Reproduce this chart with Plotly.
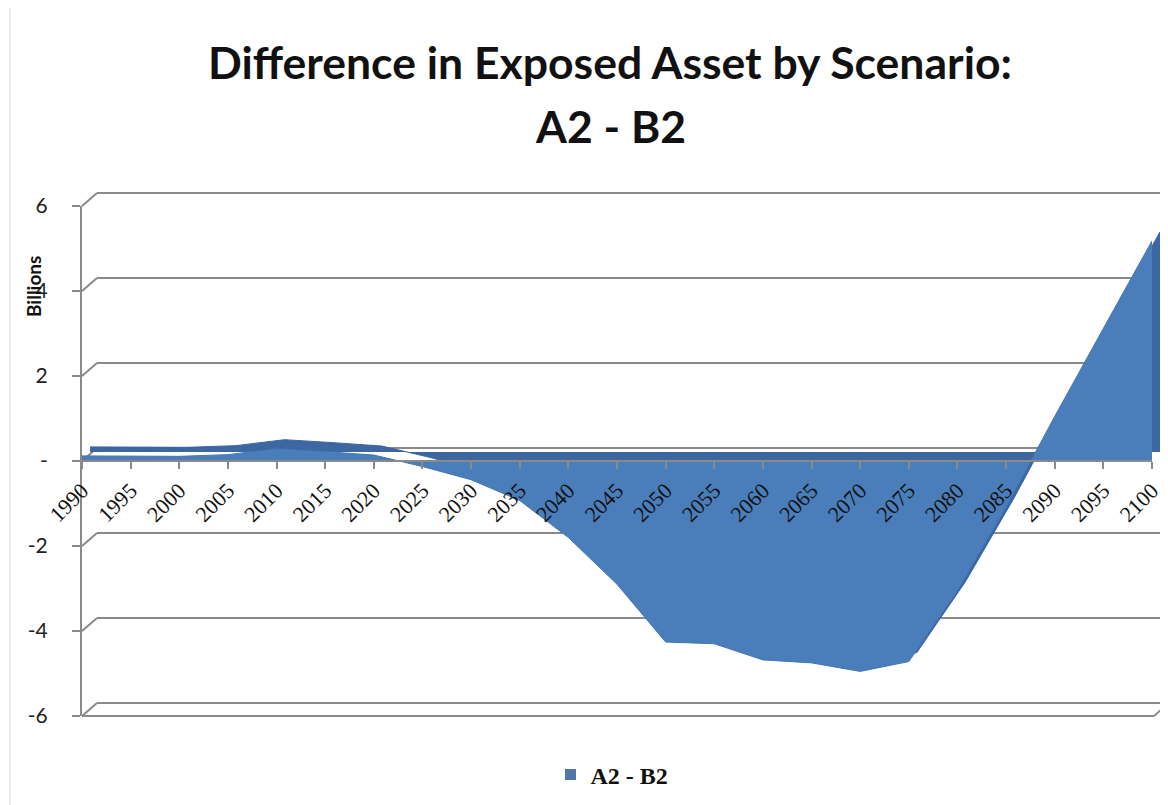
import plotly.graph_objects as go

# ---------------- data ----------------
years = list(range(1990, 2101, 5))
diff_billions = [0.12, 0.12, 0.11, 0.15, 0.29, 0.22, 0.14, -0.13, -0.44, -0.93,
                 -1.80, -2.90, -4.26, -4.30, -4.68, -4.75, -4.95, -4.72, -3.05,
                 -1.08, 1.05, 3.12, 5.18]
y_ticks = [-6, -4, -2, 0, 2, 4, 6]
y_ticktext = ["-6", "-4", "-2", "-", "2", "4", "6"]
title_line1 = "Difference in Exposed Asset by Scenario:"
title_line2 = "A2 - B2"
series_name = "A2 - B2"
y_title = "Billions"

# ---------------- geometry (screen pixels) ----------------
OFF = 8                    # default body margin of the html page
W, H = 1168 - OFF, 805 - OFF
FL, FR = 82, 1152          # front plane left/right
FT, FB = 206, 716          # front plane top (6) / bottom (-6)
BDX, BDY = 15, 13          # back-wall offset
MDX, MDY = 8, 9            # depth of the area's back face
YMIN, YMAX = -6, 6
PPU = (FB - FT) / (YMAX - YMIN)
GRID = "#8A8A8A"


def px(x):
    return (x - OFF) / W


def py(y):
    return 1 - (y - OFF) / H


def yfront(v):
    return FB - (v - YMIN) * PPU


fig = go.Figure()

# back face of the 3-D area (extrusion)
fig.add_trace(go.Scatter(
    x=years, y=diff_billions, xaxis="x2", yaxis="y2", mode="lines",
    fill="tozeroy", fillcolor="#3C67A1", line=dict(color="#3A659E", width=1),
    showlegend=False, hoverinfo="skip"))
# front face
fig.add_trace(go.Scatter(
    x=years, y=diff_billions, xaxis="x3", yaxis="y3", mode="lines",
    fill="tozeroy", fillcolor="#4A7EBB", line=dict(color="#4576B2", width=1),
    showlegend=False, name=series_name))
# legend entry (lives on the back-wall subplot so that subplot is built)
fig.add_trace(go.Scatter(
    x=[None], y=[None], xaxis="x", yaxis="y", mode="markers",
    marker=dict(symbol="square", size=11, color="#5376A8"),
    name=series_name, showlegend=True))

pad = 0.3
shapes = []
# left diagonal connectors between front axis and back wall
for v in y_ticks:
    yf = yfront(v)
    shapes.append(dict(type="line", xref="paper", yref="paper",
                       x0=px(FL), y0=py(yf), x1=px(FL + BDX), y1=py(yf - BDY),
                       line=dict(color=GRID, width=2), layer="below"))
# front floor edge and right floor connector
shapes.append(dict(type="line", xref="paper", yref="paper",
                   x0=px(FL), y0=py(FB), x1=px(FR + 2), y1=py(FB),
                   line=dict(color=GRID, width=2), layer="below"))
shapes.append(dict(type="line", xref="paper", yref="paper",
                   x0=px(FR + 2), y0=py(FB), x1=px(FR + 2 + BDX), y1=py(FB - BDY),
                   line=dict(color=GRID, width=2), layer="below"))
# faint chart-area border on the left
shapes.append(dict(type="line", xref="paper", yref="paper",
                   x0=px(10), y0=0, x1=px(10), y1=1,
                   line=dict(color="#DADADA", width=1), layer="below"))

hidden = dict(showticklabels=False, showline=False, ticks="", showgrid=False,
              zeroline=False, automargin=False, fixedrange=True)

fig.update_layout(
    width=W, height=H,
    margin=dict(l=0, r=0, t=0, b=0, autoexpand=False),
    paper_bgcolor="white", plot_bgcolor="rgba(0,0,0,0)",
    showlegend=True,
    shapes=shapes,
    # back wall gridlines
    xaxis=dict(domain=[px(FL + BDX), 1], range=[0, 1], anchor="y", **hidden),
    yaxis=dict(domain=[py(FB - BDY + pad * PPU), py(FT - BDY - pad * PPU)],
               range=[YMIN - pad, YMAX + pad], anchor="x", tickvals=y_ticks,
               showgrid=True, gridcolor=GRID, gridwidth=2, showticklabels=False,
               zeroline=False, showline=False, ticks="", automargin=False,
               fixedrange=True),
    # area back face
    xaxis2=dict(domain=[px(FL + MDX), px(FR + MDX)], range=[years[0], years[-1]],
                anchor="y2", **hidden),
    yaxis2=dict(domain=[py(FB - MDY), py(FT - MDY)], range=[YMIN, YMAX],
                anchor="x2", **hidden),
    # front axes
    xaxis3=dict(domain=[px(FL), px(FR)], range=[years[0], years[-1]],
                anchor="free", position=py(yfront(0)),
                tickvals=years, ticktext=[str(y) for y in years], tickangle=-45,
                ticks="outside", ticklen=7, tickwidth=2, tickcolor=GRID,
                showline=True, linecolor=GRID, linewidth=2,
                showgrid=False, zeroline=False, automargin=False,
                tickfont=dict(family="Liberation Serif", size=22, color="#111"),
                fixedrange=True),
    yaxis3=dict(domain=[py(FB), py(FT)], range=[YMIN, YMAX], anchor="x3",
                tickvals=y_ticks, ticktext=y_ticktext,
                ticks="outside", ticklen=8, tickwidth=2, tickcolor=GRID,
                ticklabelstandoff=20,
                showline=True, linecolor=GRID, linewidth=2,
                showgrid=False, zeroline=False, automargin=False,
                tickfont=dict(family="Lato", size=21, color="#222"),
                fixedrange=True),
    legend=dict(orientation="h", x=px(612), xanchor="center", y=py(775),
                yanchor="middle", bgcolor="rgba(0,0,0,0)",
                font=dict(family="Liberation Serif", size=24, color="#111",
                          weight="bold")),
    annotations=[
        dict(text=title_line1, x=px(610), y=py(62), xref="paper", yref="paper",
             showarrow=False, xanchor="center", yanchor="middle",
             font=dict(family="Lato", size=44.5, color="#111", weight="bold")),
        dict(text=title_line2, x=px(610), y=py(125), xref="paper", yref="paper",
             showarrow=False, xanchor="center", yanchor="middle",
             font=dict(family="Lato", size=44.5, color="#111", weight="bold")),
        dict(text=y_title, x=px(33), y=py(287), xref="paper", yref="paper",
             showarrow=False, textangle=-90, xanchor="center", yanchor="middle",
             font=dict(family="Lato", size=19, color="#111", weight="bold")),
    ],
)

fig.write_html("out.html")
